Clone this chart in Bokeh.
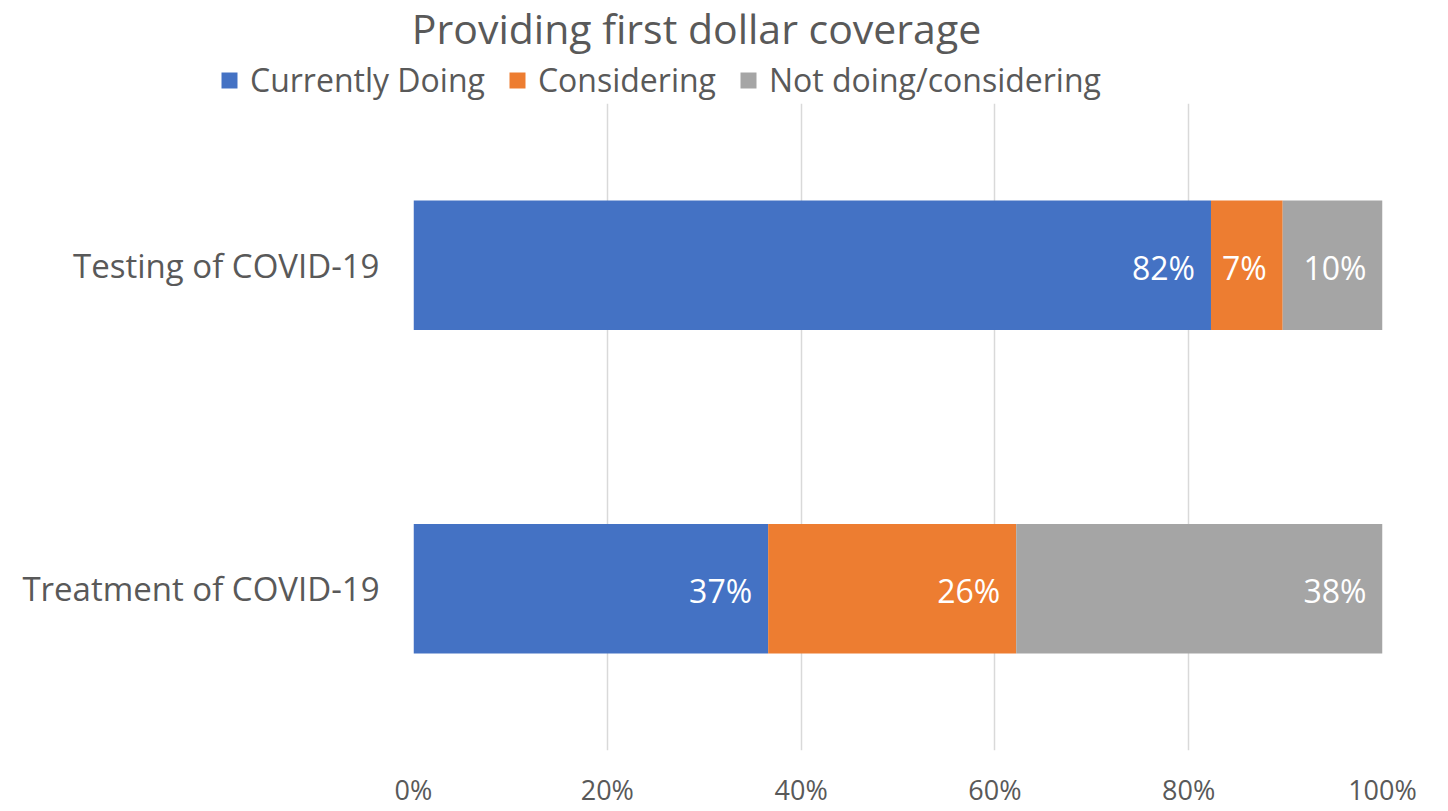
from bokeh.plotting import figure
from bokeh.layouts import column
from bokeh.models import FactorRange, Range1d, FixedTicker, PrintfTickFormatter, Legend, LegendItem, ColumnDataSource, Label
from bokeh.core.properties import value
from bokeh.embed import file_html
from bokeh.resources import INLINE

categories = ["Testing of COVID-19", "Treatment of COVID-19"]
series = ["Currently Doing", "Considering", "Not doing/considering"]
currently_doing = [82.3, 36.6]
considering = [7.4, 25.6]
not_doing = [10.3, 37.8]
colors = ["#4472C4", "#ED7D31", "#A5A5A5"]
x_ticks = [0, 20, 40, 60, 80, 100]
title_text = "Providing first dollar coverage"

TEXT = "#595959"
SANS = "Open Sans"
W = 1448
HEAD_H = 103

data = {"cat": categories, "s0": currently_doing, "s1": considering, "s2": not_doing}
source = ColumnDataSource(data)

# ---------- header: title + legend ----------
head = figure(width=W, height=HEAD_H, x_range=Range1d(-2 * W, -W),
              y_range=FactorRange(factors=categories),
              x_axis_location=None, y_axis_location=None,
              output_backend="svg", toolbar_location=None,
              min_border=0, min_border_left=0, min_border_right=0,
              min_border_top=0, min_border_bottom=0,
              outline_line_color=None)
head.frame_align = False
head.xgrid.grid_line_color = None
head.ygrid.grid_line_color = None
head_r = head.hbar_stack(["s0", "s1", "s2"], y="cat", height=0.4, color=colors,
                         line_color=None, source=source)

head.add_layout(Label(x=696, y=76, x_units="screen", y_units="screen",
                      text=title_text, text_align="center", text_baseline="alphabetic",
                      text_font=SANS, text_font_size="41px", text_color=TEXT))

legend = Legend(items=[LegendItem(label=s, renderers=[r]) for s, r in zip(series, head_r)],
                orientation="horizontal", location=(219, 2))
legend.glyph_width = 20
legend.glyph_height = 20
legend.label_standoff = 11
legend.spacing = 22
legend.padding = 0
legend.margin = 0
legend.border_line_color = None
legend.background_fill_alpha = 0
legend.label_text_font = SANS
legend.label_text_font_size = "32px"
legend.label_text_color = TEXT
head.add_layout(legend, "center")

# ---------- main chart ----------
p = figure(width=W, height=811 - HEAD_H,
           y_range=FactorRange(factors=list(reversed(categories))),
           x_range=Range1d(0, 100),
           output_backend="svg", toolbar_location=None,
           min_border_left=413, min_border_right=66, min_border_bottom=61,
           min_border_top=0)
p.frame_align = False

p.hbar_stack(["s0", "s1", "s2"], y="cat", height=0.4, color=colors,
             line_color=None, source=source)

series_vals = [currently_doing, considering, not_doing]
cum = [0.0] * len(categories)
for vals in series_vals:
    ends = [c + v for c, v in zip(cum, vals)]
    lab_src = ColumnDataSource(dict(x=ends, y=categories,
                                    t=[f"{round(v)}%" for v in vals]))
    p.text(x="x", y="y", text="t", source=lab_src, text_align="right",
           text_baseline="middle", x_offset=-16, y_offset=2, text_color="white",
           text_font=value(SANS), text_font_size="32px")
    cum = ends

p.xaxis.ticker = FixedTicker(ticks=x_ticks)
p.xaxis.formatter = PrintfTickFormatter(format="%d%%")
p.xaxis.axis_line_color = None
p.xaxis.major_tick_line_color = None
p.xaxis.minor_tick_line_color = None
p.xaxis.major_label_standoff = 14
p.xaxis.major_label_text_font = SANS
p.xaxis.major_label_text_font_size = "27px"
p.xaxis.major_label_text_color = TEXT

p.yaxis.axis_line_color = None
p.yaxis.major_tick_line_color = None
p.yaxis.minor_tick_line_color = None
p.yaxis.major_label_standoff = 28
p.yaxis.major_label_text_font = SANS
p.yaxis.major_label_text_font_size = "33px"
p.yaxis.major_label_text_color = TEXT

p.xgrid.grid_line_color = "#d9d9d9"
p.xgrid.grid_line_width = 1.5
p.ygrid.grid_line_color = None
p.outline_line_color = None

layout = column(head, p, spacing=0)
open("out.html", "w").write(file_html(layout, INLINE))
